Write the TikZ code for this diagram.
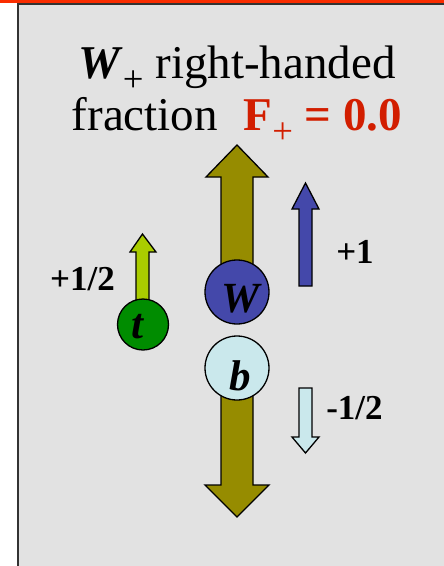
\documentclass[tikz,border=0pt]{standalone}
\usepackage{graphicx}
\usepackage{fontspec}
\setmainfont{Liberation Serif}
\definecolor{panelgray}{RGB}{226,226,226}
\definecolor{barred}{RGB}{250,45,0}
\definecolor{olive}{RGB}{150,140,0}
\definecolor{wblue}{RGB}{68,72,170}
\definecolor{bcyan}{RGB}{202,232,236}
\definecolor{tgreen}{RGB}{0,140,0}
\definecolor{ygreen}{RGB}{170,204,0}
\definecolor{fred}{RGB}{210,30,0}
\tikzset{
  shapeline/.style={draw=black, line width=1.3pt, line join=miter},
  ball/.style={circle, draw=black, line width=1.3pt, inner sep=0pt},
  balltext/.style={anchor=base, inner sep=0pt, font=\fontsize{43}{43}\selectfont\bfseries\itshape},
  spintext/.style={anchor=base, inner sep=0pt, font=\fontsize{35}{35}\selectfont\bfseries},
  titletext/.style={anchor=base, inner sep=0pt, font=\fontsize{47}{52}\selectfont}
}
\newcommand{\subplus}{\raisebox{-13.5pt}[0pt][0pt]{\scalebox{0.78}{\mdseries\upshape +}}}
\begin{document}
\begin{tikzpicture}[x=1pt,y=-1pt]
\useasboundingbox (0,0) rectangle (444,566);
\fill[white] (0,0) rectangle (444,566);
\fill[panelgray] (18,3.5) rectangle (444,566);
\fill[barred] (0,0) rectangle (444,3);
\draw[line width=2pt, black!80] (18,566) -- (18,4) -- (444,4);

% title
\node[titletext] (title1) at (237,78) {\textbf{\textit{W}}\subplus\ right-handed};
\node[titletext] (title2) at (237,130) {fraction\hspace{0.55em}{\color{fred}\textbf{F}\subplus\ \textbf{= 0.0}}};

% big olive arrows
\fill[olive, shapeline] (221,272) -- (221,177) -- (206,177) -- (237,145) -- (268,177) -- (253,177) -- (253,272) -- cycle;
\fill[olive, shapeline] (221,378) -- (221,485) -- (205,485) -- (237,517) -- (269,485) -- (253,485) -- (253,378) -- cycle;

% small spin arrows
\fill[wblue, shapeline] (299,286) -- (299,209) -- (292,209) -- (305.5,183) -- (319,209) -- (312,209) -- (312,286) -- cycle;
\fill[bcyan, shapeline] (299,388) -- (299,437) -- (292,437) -- (305.5,453) -- (319,437) -- (312,437) -- (312,388) -- cycle;
\fill[ygreen, shapeline] (136,305) -- (136,252) -- (130,252) -- (142.5,234) -- (156,252) -- (149,252) -- (149,305) -- cycle;

% balls
\node[ball, fill=wblue, minimum size=64pt] (W) at (237,292) {};
\node[ball, fill=bcyan, minimum size=64pt] (b) at (237,368) {};
\node[ball, fill=tgreen, minimum size=51pt] (t) at (143,324.5) {};
\node[balltext] (Wl) at (241,312) {W};
\node[balltext] (bl) at (240,390) {b};
\node[balltext] (tl) at (137,338) {t};

% spin labels
\node[spintext] (s1) at (355,263) {+1};
\node[spintext] (s2) at (82.5,290) {+1/2};
\node[spintext] (s3) at (354.5,419) {-1/2};
\end{tikzpicture}
\end{document}
